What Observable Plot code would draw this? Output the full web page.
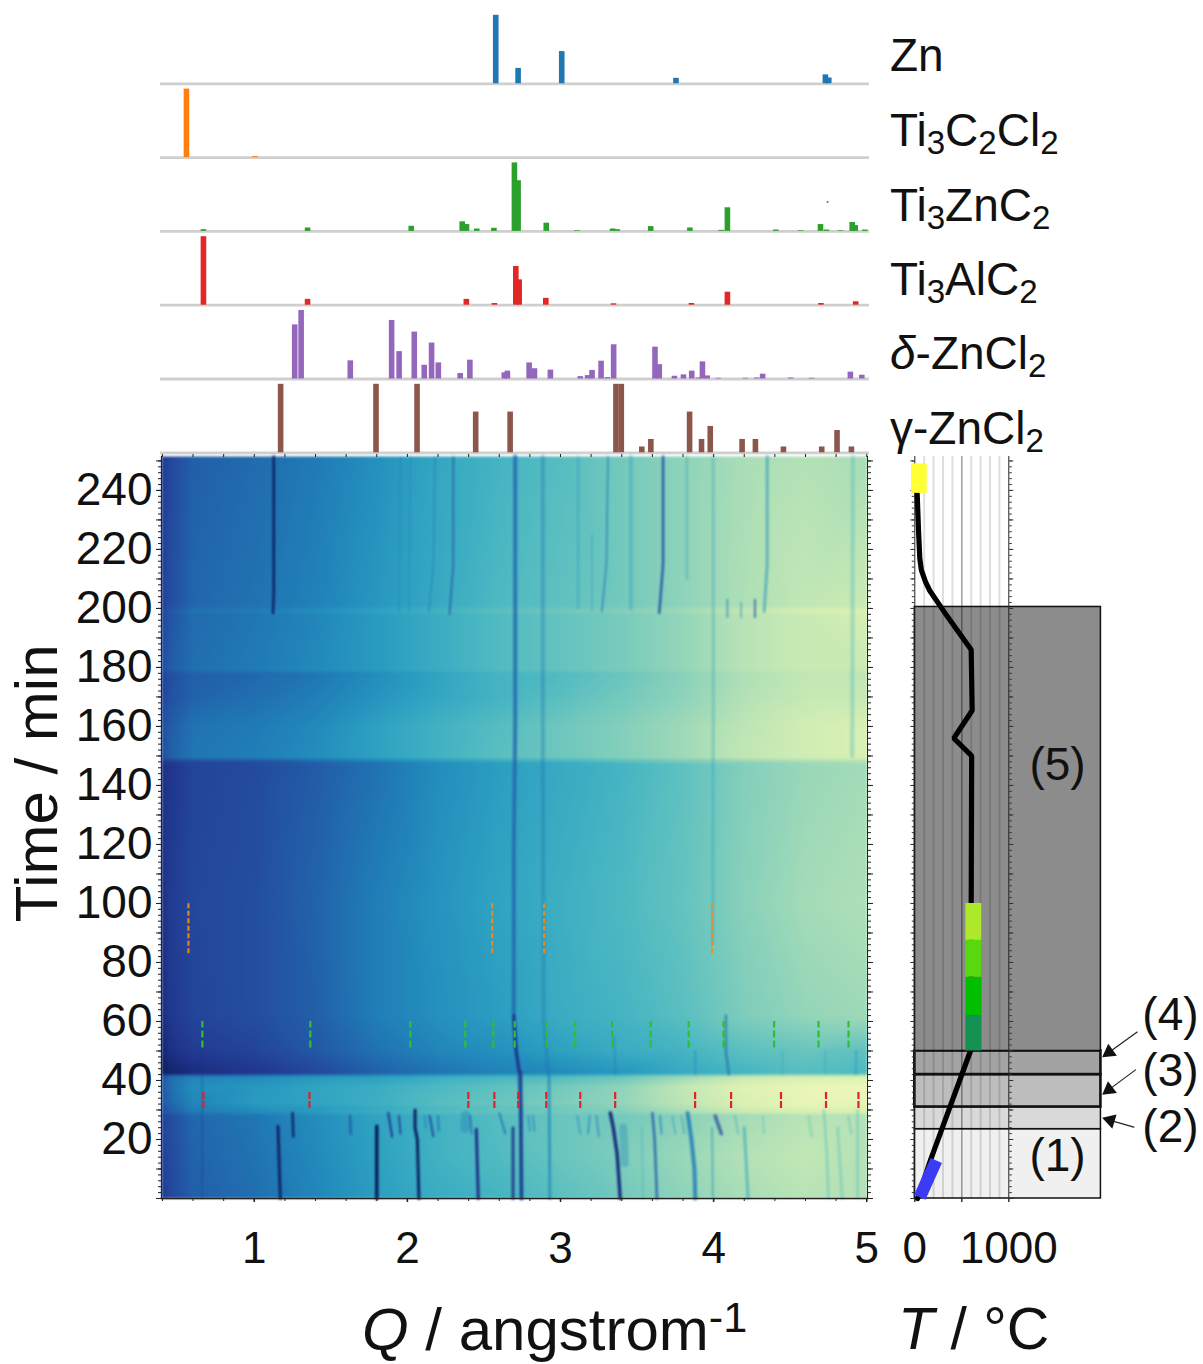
<!DOCTYPE html>
<html><head><meta charset="utf-8">
<script src="https://cdn.jsdelivr.net/npm/d3@7"></script>
<script src="https://cdn.jsdelivr.net/npm/@observablehq/plot@0.6"></script>
<style>
html,body{margin:0;padding:0;background:#fff}
#page{position:relative;width:1203px;height:1364px;overflow:hidden;font-family:"Liberation Sans",Arial,sans-serif;color:#111}
#page svg{position:absolute;left:0;top:0;background:transparent;overflow:visible}
#page svg.soft{filter:blur(0.9px)}
#page svg.softer{filter:blur(0.4px)}
.lab{position:absolute;white-space:nowrap;line-height:1}
.lab sub{font-size:72%;line-height:0;vertical-align:-0.24em}
.lab sup{font-size:72%;line-height:0;vertical-align:0.42em}
</style></head><body><div id="page"></div>
<script>
// ---------- reference stick patterns: [Q, relative intensity]
const znSticks=[[2.577,1],[2.723,.225],[3.008,.47],[3.754,.08],[4.73,.13],[4.752,.085]];
const mxeneSticks=[[.557,1],[1.004,.015]];
const maxZnSticks=[[.668,.025],[1.348,.05],[2.025,.075],[2.358,.14],[2.386,.1],[2.453,.035],[2.565,.045],[2.699,1],[2.723,.74],[2.907,.12],[3.107,.01],[3.34,.035],[3.37,.025],[3.589,.07],[3.845,.05],[4.05,.015],[4.09,.345],[4.406,.02],[4.567,.01],[4.698,.1],[4.737,.02],[4.828,.01],[4.905,.13],[4.925,.085],[4.987,.02]];
const maxAlSticks=[[.668,1],[1.348,.085],[2.385,.085],[2.568,.025],[2.708,.565],[2.73,.37],[2.904,.1],[3.346,.02],[3.855,.025],[4.09,.19],[4.701,.025],[4.928,.05]];
const deltaSticks=[[1.264,.79],[1.306,1],[1.627,.265],[1.897,.855],[1.946,.4],[2.045,.685],[2.11,.2],[2.158,.525],[2.202,.235],[2.345,.08],[2.408,.275],[2.633,.09],[2.653,.115],[2.795,.235],[2.83,.15],[2.934,.13],[3.129,.035],[3.177,.05],[3.206,.125],[3.265,.26],[3.306,.02],[3.347,.5],[3.617,.465],[3.645,.21],[3.744,.04],[3.803,.06],[3.857,.115],[3.9,.015],[3.927,.25],[3.958,.045],[4.03,.01],[4.207,.01],[4.281,.015],[4.32,.07],[4.503,.015],[4.64,.01],[4.893,.1],[4.968,.055]];
const gammaSticks=[[1.172,1],[1.795,1],[2.063,1],[2.446,.595],[2.671,.595],[3.362,1],[3.397,1],[3.531,.085],[3.59,.195],[3.843,.595],[3.921,.195],[3.978,.385],[4.186,.195],[4.273,.195],[4.456,.085],[4.706,.085],[4.806,.325],[4.9,.085]];
const znFleck=[[4.744,.43]];
const panelNames=["Zn","Ti3C2Cl2","Ti3ZnC2","Ti3AlC2","delta","gamma"];
const panelColors=["#1f77b4","#ff7f0e","#2ca02c","#e32626","#9467bd","#8c564b"];

// ---------- heat-map background (position along YlGnBu, reversed)
const qKnots=[.394,.45,.6,1,1.4,1.8,2.2,2.6,3,3.4,3.8,4.2,4.6,5.005];
const timeKnots=[0,14,28.4,29,31,32,38,41.4,42.4,50,62,100,147,148,149.5,160,170,178,179,198,199,201,251.5];
const bgRows=[
[.14,.18,.25,.29,.35,.42,.47,.5,.55,.6,.65,.7,.73,.72],
[.15,.19,.26,.3,.36,.43,.49,.53,.58,.62,.67,.72,.75,.72],
[.16,.2,.27,.31,.37,.44,.49,.54,.58,.6,.64,.69,.73,.72],
[.2,.25,.32,.36,.41,.47,.53,.57,.6,.63,.69,.76,.8,.8],
[.19,.25,.34,.38,.41,.46,.52,.56,.6,.64,.72,.8,.84,.84],
[.23,.27,.35,.41,.44,.48,.54,.58,.62,.66,.74,.81,.86,.86],
[.22,.29,.37,.4,.44,.47,.52,.56,.6,.65,.75,.83,.87,.88],
[.22,.28,.34,.36,.4,.42,.47,.5,.53,.58,.67,.76,.8,.82],
[.02,.04,.08,.12,.18,.25,.3,.34,.36,.4,.46,.5,.54,.52],
[.05,.1,.14,.17,.23,.3,.35,.38,.43,.47,.5,.55,.58,.56],
[.08,.13,.17,.2,.25,.33,.38,.42,.47,.5,.55,.62,.66,.68],
[.09,.14,.18,.2,.26,.33,.39,.44,.48,.52,.57,.64,.69,.71],
[.1,.12,.17,.19,.24,.3,.37,.42,.46,.5,.56,.63,.67,.69],
[.12,.14,.18,.2,.26,.32,.39,.44,.48,.54,.6,.65,.69,.71],
[.2,.25,.31,.33,.37,.43,.49,.55,.59,.63,.68,.75,.79,.81],
[.2,.24,.3,.32,.36,.43,.49,.54,.59,.63,.68,.74,.79,.81],
[.17,.21,.26,.29,.33,.39,.45,.5,.55,.6,.65,.72,.76,.76],
[.16,.2,.25,.27,.31,.37,.44,.5,.53,.58,.64,.71,.75,.75],
[.19,.24,.29,.32,.36,.41,.47,.53,.57,.61,.66,.73,.77,.77],
[.17,.22,.28,.31,.35,.41,.47,.53,.57,.61,.66,.73,.77,.8],
[.17,.23,.3,.33,.38,.44,.5,.56,.6,.64,.69,.76,.81,.82],
[.15,.2,.27,.3,.34,.4,.46,.52,.56,.6,.65,.71,.75,.77],
[.14,.18,.25,.28,.32,.38,.45,.5,.54,.6,.65,.7,.72,.7]
];
// ---------- diffraction lines: [colour position, width, opacity, [q,t, q,t, ...]]
const peakPaths=[
[.03,2.6,1,[1.127,251.5,1.127,205,1.122,198.5]],
[.32,1.5,.4,[1.955,251.5,1.945,199]],
[.34,1.5,.4,[2.02,251.5,2.01,199]],
[.3,1.5,.5,[2.18,251.5,2.17,215,2.14,199]],
[.2,1.6,.75,[2.3,251.5,2.3,215,2.275,198]],
[.27,4,.8,[2.704,251.5,2.704,160,2.695,120,2.695,60,2.71,50,2.73,43,2.74,30,2.745,0]],
[.1,3,.9,[2.695,62,2.71,50,2.73,43]],
[.12,3,.9,[2.74,43,2.745,0]],
[.3,4,.35,[2.885,251.5,2.885,150,2.89,60,2.92,42]],
[.38,2,.4,[3.115,251.5,3.115,200]],
[.3,1.6,.7,[3.31,251.5,3.3,215,3.27,199]],
[.4,1.5,.4,[3.205,225,3.205,199]],
[.42,4,.35,[3.46,251.5,3.46,200]],
[.22,2.4,.95,[3.67,251.5,3.67,215,3.655,205,3.645,198.5]],
[.4,2,.4,[3.825,251.5,3.825,210]],
[.42,3,.35,[3.997,251.5,3.997,150,3.995,87]],
[.38,3,.55,[4.35,251.5,4.35,215,4.33,199]],
[.5,4,.35,[4.91,251.5,4.905,150]],
[.3,1.5,.7,[4.09,203,4.09,197]],
[.35,1.5,.6,[4.18,202,4.18,197]],
[.22,1.8,.8,[4.27,203,4.27,197]],
[.1,1,.5,[.66,60,.66,0]],
[.25,2.5,.6,[4.08,62,4.08,50,4.1,42]],
[.3,1.5,.5,[3.35,55,3.36,42]],
[.35,2,.5,[3.88,50,3.88,42]],
[.45,2,.4,[4.45,50,4.45,42]],
[.45,2,.4,[4.73,50,4.73,42]],
[.42,2.5,.5,[4.93,50,4.93,42]],
[.03,3,1,[1.155,24.5,1.17,0]],
[0,3.5,1,[1.8,24.5,1.8,0]],
[.02,3,1,[2.05,30,2.05,24,2.065,20,2.075,0]],
[.1,3,1,[2.45,23.5,2.463,0]],
[.12,3,.9,[2.69,24,2.69,0]],
[.35,3,.7,[2.925,42,2.93,0]],
[.35,8,.35,[3.41,24,3.42,12]],
[.08,3.5,1,[3.325,29,3.345,24,3.37,15,3.39,0]],
[.25,2.5,.85,[3.6,29,3.615,20,3.63,0]],
[.33,4,.85,[3.83,29,3.855,20,3.875,10,3.88,0]],
[.38,2,.5,[3.99,24,3.995,0]],
[.45,3,.6,[4.2,24,4.225,0]],
[.55,2,.6,[4.72,30,4.74,15,4.75,0]],
[.55,2,.6,[4.94,30,4.94,0]],
[.58,3,.5,[4.81,24,4.84,0]],
[.5,2,.4,[3.53,24,3.54,0]],
[.05,2.5,1,[1.25,29,1.255,21]],
[.22,2.5,.8,[1.625,28,1.63,22]],
[.15,2.2,1,[1.875,29,1.9,21]],
[.2,2,1,[1.945,28,1.955,22]],
[.33,1.5,.8,[2.115,28,2.12,24]],
[.2,2,1,[2.145,28,2.17,21]],
[.3,2,.8,[2.2,28,2.205,23]],
[.32,10,.35,[2.38,28,2.38,24]],
[.25,1.5,.8,[2.41,28,2.42,22]],
[.3,2,.8,[2.6,29,2.64,22]],
[.35,2,.6,[2.79,28,2.8,23]],
[.35,2,.6,[2.82,28,2.83,23]],
[.38,2,.6,[3.11,28,3.13,22]],
[.33,1.6,.7,[3.19,28,3.18,22]],
[.33,1.6,.7,[3.235,28,3.25,21]],
[.35,2,.7,[3.65,28,3.66,22]],
[.4,1.5,.6,[3.73,28,3.75,22]],
[.4,1.5,.6,[3.79,28,3.81,22]],
[.2,3.5,.75,[4.01,28,4.05,22]],
[.45,1.5,.6,[4.14,28,4.16,22]],
[.55,1.5,.6,[4.32,28,4.33,22]],
[.58,3,.4,[4.62,28,4.64,21]],
[.55,2,.5,[4.88,28,4.9,22]]
];
// ---------- dashed reference marks
const orangeQ=[.57,2.554,2.893,3.99];
const greenQ=[.661,1.366,2.019,2.378,2.561,2.701,2.91,3.096,3.337,3.589,3.837,4.065,4.395,4.685,4.881];
const redQ=[.668,1.36,2.398,2.568,2.724,2.907,3.129,3.357,3.879,4.114,4.44,4.734,4.946];
const qDomain=[.394,5.005], tDomain=[0,251.5];
const qMajor=[1,2,3,4,5];
const qMinor=[.4,.6,.8,1,1.2,1.4,1.6,1.8,2,2.2,2.4,2.6,2.8,3,3.2,3.4,3.6,3.8,4,4.2,4.4,4.6,4.8,5];
const tLabels=[20,40,60,80,100,120,140,160,180,200,220,240];
const tMinor=d3.range(0,252,2), tMid=d3.range(0,252,10);
// ---------- temperature program
const tempProfile=[[30,0],[167,13],[592,50],[600,62],[600,100],[605,150],[415,156],[610,165.4],[600,186],[309,199],[160,206],[114,209],[70,213],[53,217],[40,226],[25,239]];
const blueSeg=[[53,.44],[228,12.9]];
const stages=[
{t1:0,t2:23.5,fill:"#f0f0f0",w:1.5},
{t1:23.5,t2:31,fill:"#d9d9d9",w:1.5},
{t1:31,t2:42,fill:"#bdbdbd",w:2.6},
{t1:42,t2:50,fill:"#a3a3a3",w:2.6},
{t1:50,t2:200.5,fill:"#8c8c8c",w:1.5}];
const holdBlocks=[
{T1:543,T2:713,t1:50,t2:62,fill:"#149150"},
{T1:543,T2:713,t1:62,t2:75,fill:"#00bf00"},
{T1:543,T2:713,t1:75,t2:87.5,fill:"#58d90f"},
{T1:543,T2:713,t1:87.5,t2:100,fill:"#ade92a"},
{T1:-35,T2:132,t1:239,t2:249,fill:"#ffff33"}];
const stageLabels=[
{T:1518,t:146.8,text:"(5)"},{T:1518,t:14.2,text:"(1)"},
{T:2720,t:62,text:"(4)"},{T:2720,t:43,text:"(3)"},{T:2720,t:24,text:"(2)"}];
const arrows=[
{T1:2366,t1:56.4,T2:2067,t2:49.6,a:-125.5},
{T1:2348,t1:43.6,T2:2066,t2:36.9,a:-127},
{T1:2330,t1:24.2,T2:2080,t2:26.5,a:-73.4}];
const tempGrid=[100,200,300,400,600,700,800,900];

const FONT='"Liberation Sans",Arial,sans-serif';
const page=document.getElementById("page");

// ---------- stacked stick panels
const sticks=[znSticks,mxeneSticks,maxZnSticks,maxAlSticks,deltaSticks,gammaSticks]
  .flatMap((rows,i)=>rows.map(([q,h])=>({q,h,panel:panelNames[i],color:panelColors[i]})));
const topPlot=Plot.plot({
  className:"softer",
  width:1203,height:453,marginLeft:161,marginRight:336,marginTop:14.8,marginBottom:.7,
  style:{background:"transparent",fontFamily:FONT},
  x:{domain:qDomain,axis:null},y:{domain:[0,1],axis:null},
  fy:{domain:panelNames,axis:null,paddingInner:.072,paddingOuter:0,round:false},
  marks:[
    Plot.ruleY(panelNames,{y:()=>0,fy:d=>d,stroke:"#cfcfcf",strokeWidth:2.8,insetLeft:-1,insetRight:-2}),
    Plot.ruleX(sticks,{x:"q",y1:()=>0,y2:"h",fy:"panel",stroke:"color",strokeWidth:5.6}),
    Plot.dot(znFleck,{x:d=>d[0],y:d=>d[1],fy:()=>"Ti3ZnC2",r:1,fill:"#2ca02c"})
  ]});
topPlot.classList.add("softer");
page.appendChild(topPlot);

// ---------- heat map: soft base (raster + diffraction lines), then crisp axes on top
const bgSamples=bgRows.flatMap((r,i)=>r.map((v,j)=>({q:qKnots[j],t:timeKnots[i],v})));
const heatColor=v=>d3.interpolateYlGnBu(1-v);
const peakMarks=peakPaths.map(([v,w,o,p])=>Plot.line(d3.range(0,p.length,2).map(k=>[p[k],p[k+1]]),{x:d=>d[0],y:d=>d[1],stroke:heatColor(v),strokeWidth:w,strokeOpacity:o}));
const heatFrame={width:1203,height:1364,marginLeft:161,marginRight:336,marginTop:456,marginBottom:166,
  style:{background:"transparent",fontFamily:FONT,color:"#111"},
  x:{domain:qDomain},y:{domain:tDomain}};
const heatBase=Plot.plot({...heatFrame,
  x:{domain:qDomain,axis:null},y:{domain:tDomain,axis:null},
  color:{type:"linear",scheme:"YlGnBu",reverse:true,domain:[0,1]},
  marks:[
    Plot.raster(bgSamples,{x:"q",y:"t",fill:"v",interpolate:"barycentric"}),
    ...peakMarks
  ]});
heatBase.classList.add("soft");
page.appendChild(heatBase);
const heat=Plot.plot({...heatFrame,
  marks:[
    Plot.ruleX(orangeQ,{x:d=>d,y1:()=>83,y2:()=>100,stroke:"#ef8a1d",strokeWidth:2,strokeDasharray:"5,2.5"}),
    Plot.ruleX(greenQ,{x:d=>d,y1:()=>51,y2:()=>60,stroke:"#2fbf2f",strokeWidth:2.2,strokeDasharray:"7,3"}),
    Plot.ruleX(redQ,{x:d=>d,y1:()=>30.5,y2:()=>36.5,stroke:"#e5202a",strokeWidth:2.2,strokeDasharray:"7,2"}),
    Plot.frame({anchor:"left",stroke:"#222"}),Plot.frame({anchor:"right",stroke:"#222"}),Plot.frame({anchor:"bottom",stroke:"#222",strokeWidth:1.5}),
    Plot.axisX({anchor:"bottom",ticks:qMinor,tickSize:3,fill:"none",label:null,stroke:"#222"}),
    Plot.axisX({anchor:"top",ticks:qMinor,tickSize:3,fill:"none",label:null,stroke:"#222"}),
    Plot.axisX({anchor:"bottom",ticks:qMajor,tickSize:4,strokeWidth:1.5,tickPadding:29,fontSize:44,label:null,tickFormat:d=>String(d),fill:"#111",stroke:"#222"}),
    Plot.axisY({anchor:"left",ticks:tMinor,tickSize:3,fill:"none",label:null,stroke:"#222"}),
    Plot.axisY({anchor:"right",ticks:tMinor,tickSize:3,fill:"none",label:null,stroke:"#222"}),
    Plot.axisY({anchor:"left",ticks:tMid,tickSize:5,fill:"none",label:null,stroke:"#222"}),
    Plot.axisY({anchor:"right",ticks:tMid,tickSize:5,fill:"none",label:null,stroke:"#222"}),
    Plot.axisY({anchor:"left",ticks:tLabels,tickSize:5,tickPadding:4,fontSize:46,label:null,tickFormat:d=>String(d),fill:"#111",stroke:"#222"}),
    Plot.text(["Time / min"],{x:()=>-.416,y:()=>140.7,rotate:-90,fontSize:60,fill:"#111"})
  ]});
page.appendChild(heat);

// ---------- temperature panel
const tempPlot=Plot.plot({
  width:1203,height:1364,marginLeft:914.3,marginRight:194.7,marginTop:456,marginBottom:166,
  style:{background:"transparent",fontFamily:FONT,color:"#111"},
  x:{domain:[0,1000]},y:{domain:tDomain},
  marks:[
    Plot.rect(stages,{x1:()=>0,x2:()=>1980,y1:"t1",y2:"t2",fill:"fill",stroke:"#111",strokeWidth:"w"}),
    Plot.ruleX(tempGrid,{x:d=>d,stroke:"#000",strokeOpacity:.13,strokeWidth:2}),
    Plot.ruleX([500],{x:d=>d,stroke:"#000",strokeOpacity:.38,strokeWidth:1.5}),
    Plot.ruleX([0,1000],{x:d=>d,stroke:"#222",strokeWidth:1}),
    Plot.axisY({anchor:"left",ticks:tMinor,tickSize:2.5,fill:"none",label:null,stroke:"#333"}),
    Plot.axisY({anchor:"right",ticks:tMinor,tickSize:2.5,fill:"none",label:null,stroke:"#333"}),
    Plot.axisY({anchor:"left",ticks:tMid,tickSize:4,fill:"none",label:null,stroke:"#333"}),
    Plot.axisY({anchor:"right",ticks:tMid,tickSize:4,fill:"none",label:null,stroke:"#333"}),
    Plot.axisX({anchor:"bottom",ticks:[0,500,1000],tickSize:4,strokeWidth:1.5,fill:"none",label:null,stroke:"#333"}),
    Plot.axisX({anchor:"bottom",ticks:[0,1000],tickSize:0,tickPadding:33,fontSize:44,label:null,tickFormat:d=>String(d),fill:"#111"}),
    Plot.line(tempProfile,{x:d=>d[0],y:d=>d[1],stroke:"#000",strokeWidth:5.2,strokeLinejoin:"miter"}),
    Plot.rect(holdBlocks,{x1:"T1",x2:"T2",y1:"t1",y2:"t2",fill:"fill"}),
    Plot.line(blueSeg,{x:d=>d[0],y:d=>d[1],stroke:"#3b3bf6",strokeWidth:12.5,strokeLinecap:"butt"}),
    ...arrows.map(a=>Plot.line([[a.T1,a.t1],[a.T2,a.t2]],{x:d=>d[0],y:d=>d[1],stroke:"#222",strokeWidth:1.2})),
    Plot.dot(arrows,{x:"T2",y:"t2",symbol:"triangle",r:5.5,rotate:"a",fill:"#111"}),
    Plot.text(stageLabels,{x:"T",y:"t",text:"text",fontSize:46,fill:"#111"})
  ]});
page.appendChild(tempPlot);

// ---------- labels that need sub/superscripts
const labels=[
 {x:890,y:32,size:46,html:'Zn'},
 {x:890,y:107,size:46,html:'Ti<sub>3</sub>C<sub>2</sub>Cl<sub>2</sub>'},
 {x:890,y:182,size:46,html:'Ti<sub>3</sub>ZnC<sub>2</sub>'},
 {x:890,y:256,size:46,html:'Ti<sub>3</sub>AlC<sub>2</sub>'},
 {x:890,y:330,size:46,html:'<i>δ</i>-ZnCl<sub>2</sub>'},
 {x:890,y:405,size:46,html:'γ-ZnCl<sub>2</sub>'},
 {x:362,y:1300,size:60,html:'<i>Q</i> / angstrom<sup>-1</sup>'},
 {x:898,y:1300,size:59,html:'<i>T</i> / °C'}
];
for(const l of labels){
  const d=document.createElement("div");d.className="lab";
  d.style.left=l.x+"px";d.style.top=l.y+"px";d.style.fontSize=l.size+"px";d.innerHTML=l.html;
  page.appendChild(d);
}
</script></body></html>
